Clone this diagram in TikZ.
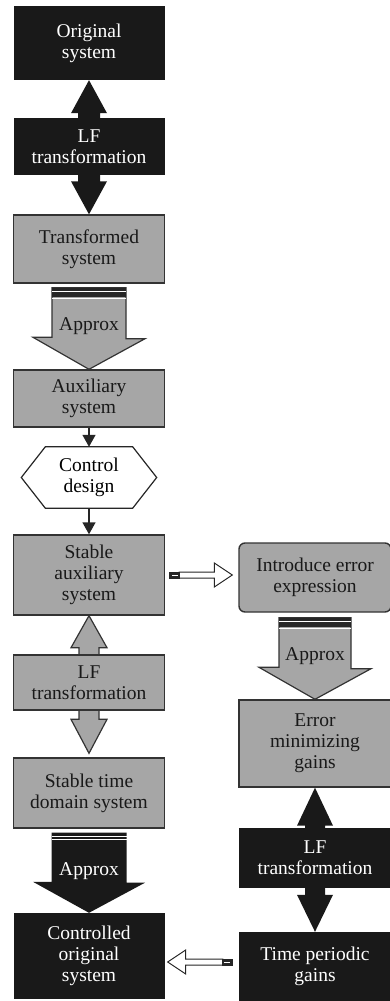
\documentclass[tikz,border=0pt]{standalone}
\usepackage{fontspec}
\setmainfont{Liberation Serif}
\usetikzlibrary{arrows.meta,calc,backgrounds}
\newcommand{\blockfont}{\fontsize{19.5}{21}\selectfont}

\begin{document}
\begin{tikzpicture}[x=1pt,y=-1pt,
  dbox/.style={fill=black!90,text=white,minimum width=151pt,align=center,inner sep=0pt,font=\blockfont},
  gbox/.style={draw=black!80,line width=1.4pt,fill=black!35,text=black!90,minimum width=151pt,align=center,inner sep=0pt,font=\blockfont},
  garr/.style={draw=black!80,line width=1.2pt,fill=black!35,line join=miter},
  barr/.style={fill=black!90},
  sarr/.style={-{Triangle[length=12pt,width=13pt]},line width=1.4pt,black!85},
  holl/.style={draw=black!85,line width=1pt,fill=white,line join=miter},
  lbl/.style={font=\blockfont,inner sep=0pt}
]
\useasboundingbox (0,0) rectangle (390,1001);

% left column
\node[dbox,minimum height=74pt] (orig)  at (89,43)    {Original\\system};
\node[dbox,minimum height=57pt] (lf1)   at (89,146.5) {LF\\transformation};
\node[gbox,minimum height=68pt] (trans) at (89,249)   {Transformed\\system};
\node[gbox,minimum height=57pt] (aux)   at (89,398.5) {Auxiliary\\system};
\node[lbl,align=center,minimum width=87pt,minimum height=61pt] (ctrl) at (89,477.5) {Control\\design};
\node[gbox,minimum height=80pt] (stab)  at (89,575)   {Stable\\auxiliary\\system};
\node[gbox,minimum height=55pt] (lf2)   at (89,682.5) {LF\\transformation};
\node[gbox,minimum height=70pt] (tdom)  at (89,793)   {Stable time\\domain system};
\node[dbox,minimum height=86pt] (ctrld) at (89,956)   {Controlled\\original\\system};

% right column
\node[gbox,rounded corners=6pt,minimum width=152pt,minimum height=69pt] (intro) at (315,577.5) {Introduce error\\expression};
\node[gbox,minimum width=152pt,minimum height=87pt] (err)  at (315,743.5) {Error\\minimizing\\gains};
\node[dbox,minimum width=152pt,minimum height=60pt] (lf3)  at (315,858)   {LF\\transformation};
\node[dbox,minimum width=152pt,minimum height=69pt] (tper) at (315,966.5) {Time periodic\\gains};

% big block arrows behind the boxes
\begin{scope}[on background layer]
% LF transformation: two-headed arrows
\fill[barr] (orig.south) -- ++(18,33) -- ++(-7,0) -- ($(trans.north)+(11,-33)$) -- ++(7,0) -- (trans.north)
  -- ++(-18,-33) -- ++(7,0) -- ($(orig.south)+(-11,33)$) -- ++(-7,0) -- cycle;
\filldraw[garr] (stab.south) -- ++(18,32) -- ++(-8,0) -- ($(tdom.north)+(10,-38)$) -- ++(8,0) -- ($(tdom.north)+(0,-4)$)
  -- ++(-18,-34) -- ++(8,0) -- ($(stab.south)+(-10,32)$) -- ++(-8,0) -- cycle;
\fill[barr] (err.south) -- ++(18,38) -- ++(-8,0) -- ($(tper.north)+(10,-37)$) -- ++(8,0) -- (tper.north)
  -- ++(-18,-37) -- ++(8,0) -- ($(err.south)+(-10,38)$) -- ++(-8,0) -- cycle;

% Approx arrows
\filldraw[garr] ($(trans.south)+(-37,4)$) -- ++(74,0) -- ++(0,51) -- ++(19,0) -- (aux.north) -- ++(-56,-32) -- ++(19,0) -- cycle;
\fill[black!85] ($(trans.south)+(-37,4)$) rectangle ++(74,9);
\draw[white,line width=1.5pt] ($(trans.south)+(-37,8)$) -- ++(74,0);
\draw[white,line width=1pt] ($(trans.south)+(-37,14.5)$) -- ++(74,0);

\filldraw[garr] ($(intro.south)+(-36,5)$) -- ++(72,0) -- ++(0,51) -- ++(20,0) -- (err.north) -- ++(-56,-32) -- ++(20,0) -- cycle;
\fill[black!85] ($(intro.south)+(-36,5)$) rectangle ++(72,9);
\draw[white,line width=1.5pt] ($(intro.south)+(-36,9)$) -- ++(72,0);
\draw[white,line width=1pt] ($(intro.south)+(-36,15.5)$) -- ++(72,0);

\fill[barr] ($(tdom.south)+(-37.5,4)$) -- ++(75,0) -- ++(0,50) -- ++(18.5,0) -- (ctrld.north) -- ++(-56,-31) -- ++(18.5,0) -- cycle;
\draw[white,line width=1.1pt] ($(tdom.south)+(-37.5,7.5)$) -- ++(75,0);
\draw[white,line width=1.1pt] ($(tdom.south)+(-37.5,10.5)$) -- ++(75,0);
\end{scope}

\node[lbl,text=black!90] (ap1) at ($(trans.south)!0.5!(aux.north)$) {Approx};
\node[lbl,text=black!90] (ap2) at ($(intro.south)!0.5!(err.north)$) {Approx};
\node[lbl,text=white]    (ap3) at ($(tdom.south)!0.5!(ctrld.north)$) {Approx};

% control design hexagon and small arrows
\draw[line width=1.2pt,black!85] (ctrl.north west) -- (ctrl.north east) -- ($(ctrl.east)+(24,0)$) -- (ctrl.south east)
  -- (ctrl.south west) -- ($(ctrl.west)+(-24,0)$) -- cycle;
\draw[sarr] (aux.south) -- (ctrl.north);
\draw[sarr] (ctrl.south) -- (stab.north);

% hollow arrows between the columns
\coordinate (h1) at ($(stab.east -| intro.west)+(-6,0)$);
\filldraw[holl] ($(stab.east)+(14,-3)$) -- ($(h1)+(-18,-3)$) -- ++(0,-9) -- (h1) -- ($(h1)+(-18,12)$) -- ++(0,-9)
  -- ($(stab.east)+(14,3)$) -- cycle;
\fill[black!85] ($(stab.east)+(3.5,-3.5)$) rectangle ++(11,7);
\draw[white,line width=0.8pt] ($(stab.east)+(7,0)$) -- ++(6,0);

\coordinate (h2) at ($(ctrld.east)+(3,6)$);
\filldraw[holl] ($(tper.west |- h2)+(-16,-3)$) -- ($(h2)+(18,-3)$) -- ++(0,-9) -- (h2) -- ($(h2)+(18,12)$) -- ++(0,-9)
  -- ($(tper.west |- h2)+(-16,3)$) -- cycle;
\fill[black!85] ($(tper.west |- h2)+(-17,-3.5)$) rectangle ++(11,7);
\draw[white,line width=0.8pt] ($(tper.west |- h2)+(-15,0)$) -- ++(6,0);

\end{tikzpicture}
\end{document}
